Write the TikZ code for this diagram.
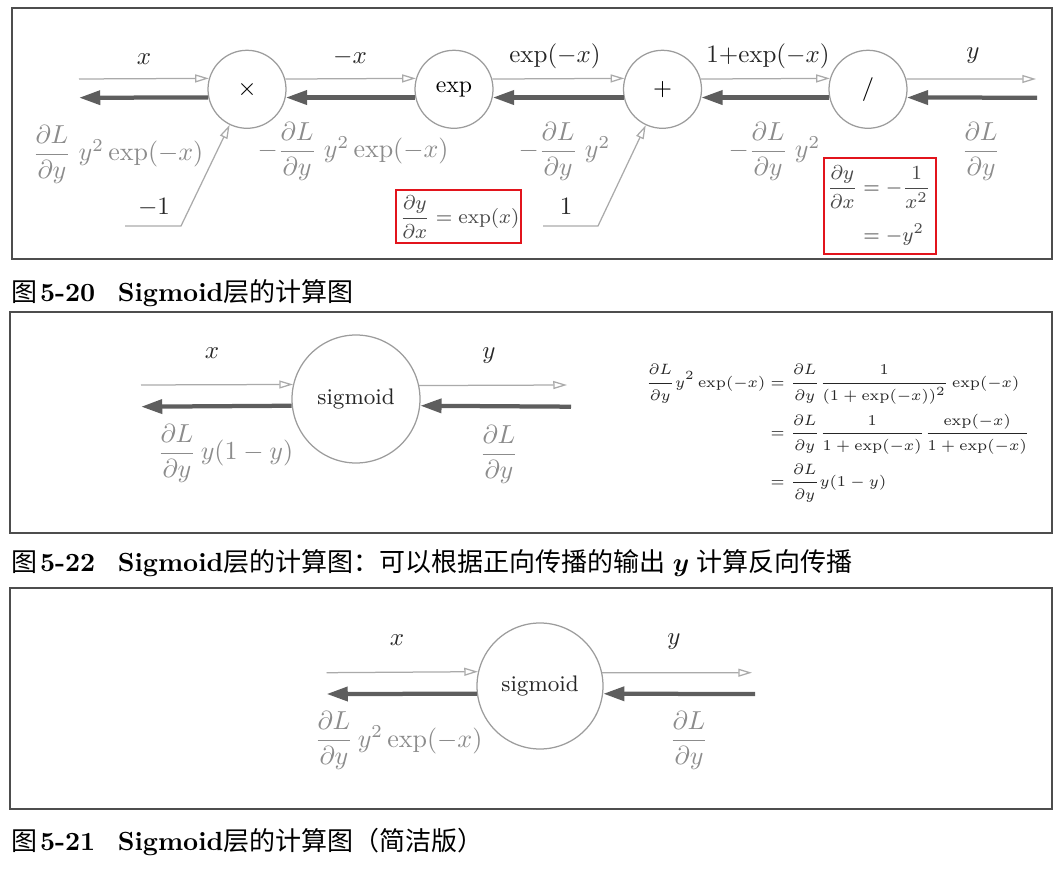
\RequirePackage{fix-cm}
\documentclass[tikz,border=0pt]{standalone}
\usepackage{amsmath}
\usepackage{fontspec}
\newfontfamily\cjk{Noto Sans CJK SC}
\newcommand\cjktext[1]{{\cjk\fontsize{10.4}{12}\selectfont #1}}
\usetikzlibrary{arrows.meta}

\definecolor{fwdc}{HTML}{AAAAAA}
\definecolor{bwdc}{HTML}{5E5E5E}
\definecolor{circc}{HTML}{9C9C9C}
\definecolor{darkc}{HTML}{262626}
\definecolor{grayc}{HTML}{8C8C8C}
\definecolor{boxtc}{HTML}{4A4A4A}
\definecolor{redc}{HTML}{E2141C}
\definecolor{panelc}{HTML}{4D4D4D}

\tikzset{
 fwd/.style={draw=fwdc, line width=0.5pt, -{Triangle[open, length=5.5pt, width=3.2pt]}},
 bwd/.style={draw=bwdc, line width=1.7pt, -{Triangle[length=8.5pt, width=5.5pt]}},
 opnode/.style={circle, draw=circc, line width=0.5pt, minimum size=31.2pt, inner sep=0pt, text=black, font=\fontsize{9.5}{10}\selectfont},
 signode/.style={circle, draw=circc, line width=0.5pt, inner sep=0pt, text=darkc, font=\fontsize{9}{10}\selectfont},
 toplab/.style={inner sep=0pt, text=darkc, font=\fontsize{10}{12}\selectfont},
 lowlab/.style={inner sep=0pt, text=grayc, anchor=base west, font=\fontsize{10.4}{12}\selectfont},
 lowlabc/.style={inner sep=0pt, text=grayc, anchor=base, font=\fontsize{10.4}{12}\selectfont},
 panel/.style={draw=panelc, line width=0.6pt},
 redbox/.style={draw=redc, line width=0.8pt},
 boxeq/.style={inner sep=0pt, text=boxtc, font=\fontsize{8}{10}\selectfont},
 eqn/.style={inner sep=0pt, text=darkc, font=\fontsize{6}{7}\selectfont},
 capt/.style={anchor=base west, inner sep=0pt, font=\fontsize{10.5}{12}\selectfont},
}

\begin{document}
\begin{tikzpicture}[x=0.4pt,y=-0.4pt]
\useasboundingbox (0,0) rectangle (1060,871);

% ---------------- panel 1 ----------------
\draw[panel] (12,8) rectangle (1052,259);

\node[opnode] (mul)  at (247,89.3)   {$\times$};
\node[opnode] (expn) at (454,89.3)   {exp};
\node[opnode] (add)  at (662.5,89.3) {$+$};
\node[opnode] (dv)   at (868,89.3)   {$/$};

\coordinate (inL)  at (79,79);
\coordinate (outL) at (79,97.7);
\coordinate (outR) at (1036,79);
\coordinate (inR)  at (1037,97.7);

\draw[fwd] (inL) -- (mul.164.7);
\draw[fwd] (mul.15.3) -- (expn.164.7);
\draw[fwd] (expn.15.3) -- (add.164.7);
\draw[fwd] (add.15.3) -- (dv.164.7);
\draw[fwd] (dv.15.3) -- (outR);

\draw[bwd] (inR) -- (dv.-12.4);
\draw[bwd] (dv.192.4) -- (add.-12.4);
\draw[bwd] (add.192.4) -- (expn.-12.4);
\draw[bwd] (expn.192.4) -- (mul.-12.4);
\draw[bwd] (mul.192.4) -- (outL);

\coordinate (m1a) at (125,226);
\coordinate (m1b) at (181,226);
\draw[fwd] (m1a) -- (m1b) -- (mul.244);
\coordinate (p1a) at (543,226);
\coordinate (p1b) at (598,226);
\draw[fwd] (p1a) -- (p1b) -- (add.245);

\node[toplab] (lx)  at (144,59.5) {$x$};
\node[toplab] (lmx) at (350,57.5) {$-x$};
\node[toplab] (lex) at (555,56.5) {$\exp(-x)$};
\node[toplab] (lpe) at (768,56)   {$1{+}\mathrm{exp}(-x)$};
\node[toplab] (ly)  at (973,55.8) {$y$};
\node[toplab] (lm1) at (154,207)  {$-1$};
\node[toplab] (lp1) at (566,206)  {$1$};

\node[lowlab] (g1) at (32,161)  {$\dfrac{\partial L}{\partial y}\;y^2\exp(-x)$};
\node[lowlab] (g2) at (257,158) {$-\dfrac{\partial L}{\partial y}\;y^2\exp(-x)$};
\node[lowlab] (g3) at (518,158) {$-\dfrac{\partial L}{\partial y}\;y^2$};
\node[lowlab] (g4) at (728,158) {$-\dfrac{\partial L}{\partial y}\;y^2$};
\node[lowlabc] (g5) at (981,158) {$\dfrac{\partial L}{\partial y}$};

\draw[redbox] (396,190) rectangle (521,243);
\node[boxeq] (b1) at (459.5,217) {$\dfrac{\partial y}{\partial x}=\exp(x)$};
\draw[redbox] (824,158) rectangle (936,254);
\node[boxeq] (b2) at (879,207.5) {$\begin{aligned}\frac{\partial y}{\partial x}&=-\frac{1}{x^2}\\[2pt]&=-y^2\end{aligned}$};

\node[capt] (c1) at (11,301.5) {\cjktext{图}\hspace{1pt}\textbf{5-20}\hspace{9pt}\textbf{Sigmoid}\cjktext{层的计算图}};

% ---------------- panel 2 ----------------
\draw[panel] (10,312) rectangle (1052,533);
\node[signode, minimum size=51.2pt] (sig1) at (356,399) {sigmoid};
\coordinate (s1inL)  at (141,385);
\coordinate (s1outR) at (567,385);
\coordinate (s1inR)  at (571,406.7);
\coordinate (s1outL) at (141,406.7);
\draw[fwd] (s1inL) -- (sig1.167.4);
\draw[fwd] (sig1.12.6) -- (s1outR);
\draw[bwd] (s1inR) -- (sig1.-6.9);
\draw[bwd] (sig1.186.9) -- (s1outL);
\node[toplab, text=darkc] (s1x) at (212,353) {$x$};
\node[toplab, text=darkc] (s1y) at (489,356) {$y$};
\node[lowlab] (s1g1) at (157,460) {$\dfrac{\partial L}{\partial y}\,y(1-y)$};
\node[lowlabc] (s1g2) at (499,461) {$\dfrac{\partial L}{\partial y}$};

\node[eqn, anchor=north west] (eq) at (645,364) {$\begin{aligned}\frac{\partial L}{\partial y}y^2\exp(-x)&=\frac{\partial L}{\partial y}\frac{1}{(1+\exp(-x))^2}\exp(-x)\\&=\frac{\partial L}{\partial y}\frac{1}{1+\exp(-x)}\frac{\exp(-x)}{1+\exp(-x)}\\&=\frac{\partial L}{\partial y}y(1-y)\end{aligned}$};

\node[capt] (c2) at (11,571.7) {\cjktext{图}\hspace{1pt}\textbf{5-22}\hspace{9pt}\textbf{Sigmoid}\cjktext{层的计算图：可以根据正向传播的输出}\;$\boldsymbol{y}$\;\cjktext{计算反向传播}};

% ---------------- panel 3 ----------------
\draw[panel] (10,588) rectangle (1052,809);
\node[signode, minimum size=50.4pt] (sig2) at (540,686) {sigmoid};
\coordinate (s2inL)  at (326.5,672.7);
\coordinate (s2outR) at (752,672.7);
\coordinate (s2inR)  at (755,694);
\coordinate (s2outL) at (326.5,694);
\draw[fwd] (s2inL) -- (sig2.167.8);
\draw[fwd] (sig2.12.2) -- (s2outR);
\draw[bwd] (s2inR) -- (sig2.-7.3);
\draw[bwd] (sig2.187.3) -- (s2outL);
\node[toplab] (s2x) at (397,640) {$x$};
\node[toplab] (s2y) at (674,642) {$y$};
\node[lowlab] (s2g1) at (314,747) {$\dfrac{\partial L}{\partial y}\,y^2\exp(-x)$};
\node[lowlabc] (s2g2) at (689,747) {$\dfrac{\partial L}{\partial y}$};

\node[capt] (c3) at (11,850) {\cjktext{图}\hspace{1pt}\textbf{5-21}\hspace{9pt}\textbf{Sigmoid}\cjktext{层的计算图（简洁版）}};
\end{tikzpicture}
\end{document}
